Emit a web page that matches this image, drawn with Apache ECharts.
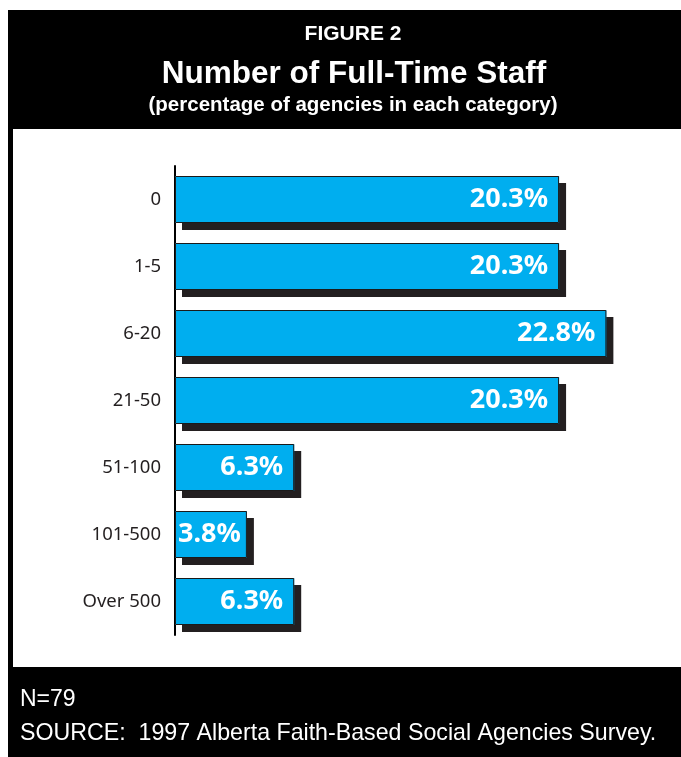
<!DOCTYPE html>
<html>
<head>
<meta charset="utf-8">
<script src="https://cdn.jsdelivr.net/npm/echarts@6/dist/echarts.min.js"></script>
<style>
  html, body { margin: 0; padding: 0; background: #ffffff; }
  #chart { width: 681px; height: 757px; }
</style>
</head>
<body>
<div id="chart"></div>
<script>
// Staff-size categories and the share of agencies in each (%)
const categories = ['0', '1-5', '6-20', '21-50', '51-100', '101-500', 'Over 500'];
const shares = [20.3, 20.3, 22.8, 20.3, 6.3, 3.8, 6.3];

const chart = echarts.init(document.getElementById('chart'), null, { renderer: 'canvas' });

const headFont = '"Liberation Sans", Arial, Helvetica, sans-serif';
const labelFont = '"Noto Sans", "DejaVu Sans", sans-serif';

// very short bars get their label tucked a little closer to the bar end
const outlined = shares.map(v => (v < 5 ? { value: v, label: { distance: 6 } } : v));

chart.setOption({
  animation: false,
  backgroundColor: '#ffffff',
  graphic: [
    // black frame
    { type: 'rect', left: 8, top: 10, shape: { width: 673, height: 747 }, style: { fill: '#000000' }, z: -10 },
    // white plotting panel
    { type: 'rect', left: 13, top: 129, shape: { width: 668, height: 538 }, style: { fill: '#ffffff' }, z: -9 },
    { type: 'text', left: 20, top: 688, style: { text: 'N=79', fill: '#ffffff', font: '23px ' + headFont } },
    { type: 'text', left: 20, top: 722, style: { text: 'SOURCE:  1997 Alberta Faith-Based Social Agencies Survey.', fill: '#ffffff', font: '23.2px ' + headFont } }
  ],
  title: [
    { text: 'FIGURE 2', left: 348, top: 19, textAlign: 'center',
      textStyle: { color: '#ffffff', fontFamily: headFont, fontWeight: 'bold', fontSize: 21 } },
    { text: 'Number of Full-Time Staff', left: 349, top: 53, textAlign: 'center',
      textStyle: { color: '#ffffff', fontFamily: headFont, fontWeight: 'bold', fontSize: 31.5 } },
    { text: '(percentage of agencies in each category)', left: 348, top: 90, textAlign: 'center',
      textStyle: { color: '#ffffff', fontFamily: headFont, fontWeight: 'bold', fontSize: 20.5 } }
  ],
  grid: { left: 175, top: 166, width: 473, height: 469, containLabel: false },
  xAxis: {
    type: 'value', min: 0, max: 25,
    show: false
  },
  yAxis: {
    type: 'category',
    data: categories,
    inverse: true,
    axisLine: { show: true, lineStyle: { color: '#000000', width: 2 } },
    axisTick: { show: false },
    axisLabel: { color: '#231f20', fontFamily: labelFont, fontSize: 18.5, margin: 14 }
  },
  series: [
    {
      // filled bars with their dark drop shadow
      type: 'bar',
      data: shares,
      barWidth: 47,
      silent: true,
      itemStyle: {
        color: '#00aeef',
        shadowColor: '#231f20',
        shadowBlur: 0,
        shadowOffsetX: 7,
        shadowOffsetY: 7
      }
    },
    {
      // thin outline and value label on top of each bar
      type: 'bar',
      data: outlined,
      barWidth: 47,
      barGap: '-100%',
      itemStyle: {
        color: 'rgba(0,0,0,0)',
        borderColor: '#1a1a1a',
        borderWidth: 1
      },
      label: {
        show: true,
        position: 'insideRight',
        distance: 11,
        formatter: p => p.value.toFixed(1) + '%',
        color: '#ffffff',
        fontFamily: labelFont,
        fontWeight: 'bold',
        fontSize: 27
      }
    }
  ]
});
</script>
</body>
</html>
